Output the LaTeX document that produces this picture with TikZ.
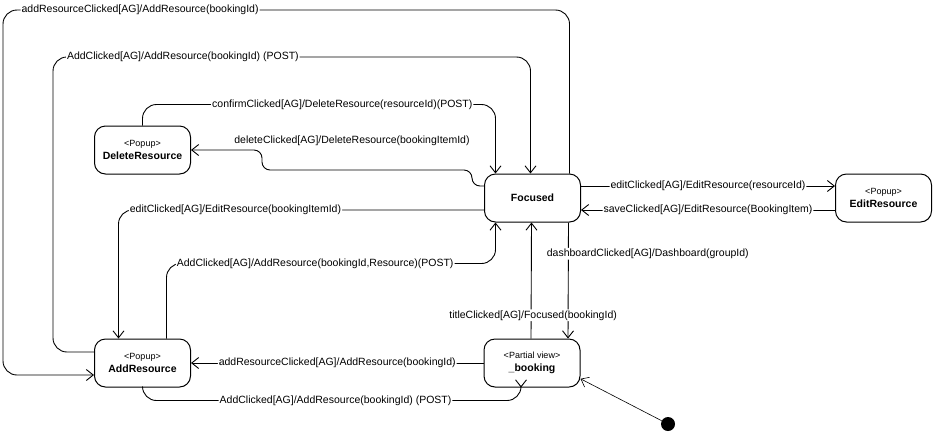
\documentclass[tikz,border=0pt]{standalone}
\usepackage{fontspec}
\setmainfont{Liberation Sans}
\usetikzlibrary{arrows.meta}
\tikzstyle{state} = [rectangle, rounded corners=11pt, minimum width=96pt, minimum height=48pt, text centered, align=center, draw=black, line width=1pt, font=\fontsize{10.5}{13}\selectfont\bfseries]
\tikzstyle{arrow} = [line width=0.9pt, rounded corners=14pt, -{Straight Barb[length=7pt,width=11pt]}]
\tikzstyle{lbl} = [fill=white, inner sep=1pt, font=\fontsize{10.5}{12}\selectfont]
\newcommand{\stereo}[1]{{\mdseries\fontsize{9}{13}\selectfont <#1>}\\}

\begin{document}
\begin{tikzpicture}[x=1pt, y=-1pt]
\useasboundingbox (0,0) rectangle (933,432);
\node (delete) [state] at (142.5,150) {\stereo{Popup}DeleteResource};
\node (focused) [state] at (532.5,198) {Focused};
\node (edit) [state] at (883.5,198) {\stereo{Popup}EditResource};
\node (add) [state] at (142.5,363) {\stereo{Popup}AddResource};
\node (booking) [state] at (532,363) {\stereo{Partial view}\_booking};
\node (init) [circle, fill=black, inner sep=0pt, minimum size=14pt] at (668,424) {};

% outer loops to AddResource / Focused
\draw [arrow] ([xshift=37pt]focused.north) |- (3,10) node[lbl, pos=0.879] {addResourceClicked[AG]/AddResource(bookingId)} |- ([yshift=-12pt]add.west);
\draw [arrow] ([yshift=11pt]add.west) -| (53,57) -| ([xshift=-2pt]focused.north) node[lbl, pos=0.136] {AddClicked[AG]/AddResource(bookingId) (POST)};

% DeleteResource
\draw [arrow] (delete.north) -- ++(0,-21) -| ([xshift=-37pt]focused.north) node[lbl, pos=0.283] {confirmClicked[AG]/DeleteResource(resourceId)(POST)};
\draw [arrow, rounded corners=8pt] ([yshift=12pt]focused.west) -| (472,170) -| (262,150) -- (delete.east) node[lbl] at (352,141) {deleteClicked[AG]/DeleteResource(bookingItemId)};

% AddResource
\draw [arrow] ([yshift=-12pt]focused.west) -| ([xshift=-24pt]add.north) node[lbl, pos=0.34] {editClicked[AG]/EditResource(bookingItemId)};
\draw [arrow] ([xshift=24pt]add.north) -- ++(0,-75) -| ([xshift=-37pt]focused.south) node[lbl, pos=0.226] {AddClicked[AG]/AddResource(bookingId,Resource)(POST)};

% Focused <-> _booking
\draw [arrow] ([xshift=36pt]focused.south) -- ([xshift=36pt]booking.north) node[lbl, pos=0.27, anchor=west, xshift=-23pt] {dashboardClicked[AG]/Dashboard(groupId)};
\draw [arrow] ([xshift=-1pt]booking.north) -- ([xshift=-1pt]focused.south) node[lbl, pos=0.2, xshift=2pt] {titleClicked[AG]/Focused(bookingId)};

% EditResource
\draw [arrow] ([yshift=12pt]focused.east) -- ([yshift=12pt]edit.west) node[lbl, pos=0.5] {editClicked[AG]/EditResource(resourceId)};
\draw [arrow] ([yshift=-12pt]edit.west) -- ([yshift=-12pt]focused.east) node[lbl, pos=0.5] {saveClicked[AG]/EditResource(BookingItem)};

% _booking <-> AddResource
\draw [arrow] (booking.west) -- (add.east) node[lbl, pos=0.5] {addResourceClicked[AG]/AddResource(bookingId)};
\draw [arrow] (add.south) -- ++(0,13) -| ([xshift=-11pt]booking.south) node[lbl, pos=0.255] {AddClicked[AG]/AddResource(bookingId) (POST)};

% initial state
\draw [arrow, line width=0.6pt] (init) -- (booking.-18);
\end{tikzpicture}
\end{document}
